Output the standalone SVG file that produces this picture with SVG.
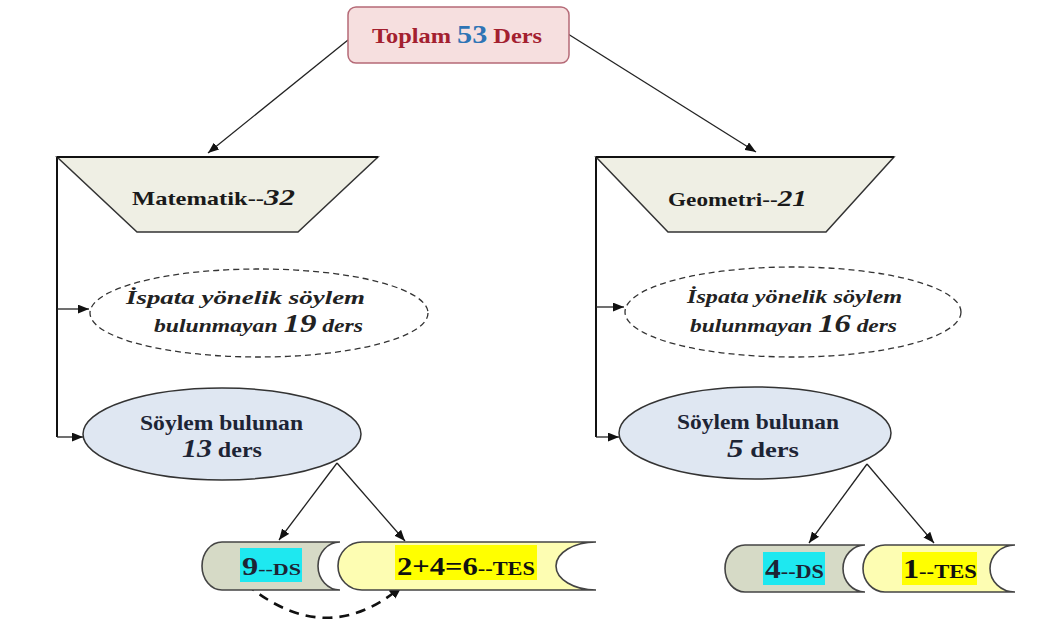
<svg xmlns="http://www.w3.org/2000/svg" width="1057" height="630" viewBox="0 0 1057 630" font-family="'Liberation Serif', 'Times New Roman', 'DejaVu Serif', serif">
  <defs>
    <marker id="arrow" viewBox="0 0 10 8" refX="10" refY="4" markerWidth="11" markerHeight="9" markerUnits="userSpaceOnUse" orient="auto">
      <path d="M0,0 L10,4 L0,8 Z" fill="#111"/>
    </marker>
    <marker id="arrowBig" viewBox="0 0 10 8" refX="9" refY="4" markerWidth="13" markerHeight="11" markerUnits="userSpaceOnUse" orient="auto">
      <path d="M0,0 L10,4 L0,8 Z" fill="#111"/>
    </marker>
  </defs>
  <style>
    text { font-family: 'Liberation Serif', 'Times New Roman', 'DejaVu Serif', serif; font-weight: 700; }
    .total { fill: #f6dfdf; stroke: #b56a77; stroke-width: 1.5; }
    .subject { fill: #efefe4; stroke: #333; stroke-width: 1.5; }
    .none { fill: #ffffff; stroke: #333; stroke-width: 1.3; stroke-dasharray: 6 4; }
    .found { fill: #dfe7f2; stroke: #333; stroke-width: 1.5; }
    .ds { fill: #d6dac6; stroke: #444; stroke-width: 1.6; }
    .tes { fill: #fdfdb2; stroke: #444; stroke-width: 1.6; }
    .link { fill: none; stroke: #222; stroke-width: 1.3; marker-end: url(#arrow); }
    .bus { fill: none; stroke: #111; stroke-width: 2; }
    .dash { fill: none; stroke: #111; stroke-width: 2.6; stroke-dasharray: 10 7; marker-end: url(#arrowBig); }
    .ital { font-style: italic; }
    .dark { fill: #1d2435; }
  </style>

  <!-- connectors -->
  <g id="connectors">
    <path class="link" d="M348,40 L208,153"/>
    <path class="link" d="M568,34 L756,152"/>
    <path class="bus" d="M57,157 V437"/>
    <path class="link" d="M57,309 H89"/>
    <path class="link" d="M57,437 H83"/>
    <path class="bus" d="M596,157 V437"/>
    <path class="link" d="M596,307 H624"/>
    <path class="link" d="M596,437 H619"/>
    <path class="link" d="M337,463 L279,540"/>
    <path class="link" d="M337,463 L405,541"/>
    <path class="link" d="M867,464 L809,543"/>
    <path class="link" d="M867,464 L934,543"/>
    <path class="dash" d="M246,584 Q326,650 401,587"/>
  </g>

  <!-- total -->
  <g id="total">
    <rect class="total" x="348" y="7" width="221" height="56" rx="8"/>
    <text x="372" y="43" font-size="21" textLength="170" lengthAdjust="spacingAndGlyphs"><tspan fill="#a3202f">Toplam </tspan><tspan fill="#2e74b5" font-size="26">53</tspan><tspan fill="#a3202f"> Ders</tspan></text>
  </g>

  <!-- mathematics branch -->
  <g id="matematik">
    <polygon class="subject" points="57,157 378,157 298,232 137,232"/>
    <line x1="57" y1="157" x2="378" y2="157" stroke="#111" stroke-width="2"/>
    <text x="132" y="205" font-size="19" fill="#1a1a1a" textLength="163" lengthAdjust="spacingAndGlyphs">Matematik--<tspan class="ital" font-size="24">32</tspan></text>
  </g>

  <g id="mat-none">
    <ellipse class="none" cx="259" cy="313" rx="169" ry="44"/>
    <text class="ital" x="126" y="304" font-size="18" fill="#222" textLength="239" lengthAdjust="spacingAndGlyphs">İspata yönelik söylem</text>
    <text class="ital" x="154" y="332" font-size="18" fill="#222" textLength="209" lengthAdjust="spacingAndGlyphs">bulunmayan <tspan font-size="25">19</tspan> ders</text>
  </g>

  <g id="mat-found">
    <ellipse class="found" cx="222" cy="434" rx="139" ry="46"/>
    <text class="dark" x="140" y="430" font-size="21" textLength="163" lengthAdjust="spacingAndGlyphs">Söylem bulunan</text>
    <text class="dark" x="182" y="457" font-size="21" textLength="80" lengthAdjust="spacingAndGlyphs"><tspan class="ital" font-size="26">13</tspan> ders</text>
  </g>

  <g id="mat-ds">
    <path class="ds" d="M222,542 H340 A22,24 0 0 0 340,590 H222 A20,24 0 0 1 222,542 Z"/>
    <rect x="240" y="548" width="62" height="34" fill="#1ee8f0"/>
    <text class="dark" x="242" y="575" font-size="17" textLength="59" lengthAdjust="spacingAndGlyphs"><tspan font-size="25">9</tspan>--DS</text>
  </g>

  <g id="mat-tes">
    <path class="tes" d="M362,542 H596 A40,24 0 0 0 596,590 H362 A24,24 0 0 1 362,542 Z"/>
    <rect x="395" y="545" width="142" height="35" fill="#ffff00"/>
    <text x="397" y="575" font-size="19" fill="#111" textLength="138" lengthAdjust="spacingAndGlyphs"><tspan font-size="26">2+4=6</tspan>--TES</text>
  </g>

  <!-- geometry branch -->
  <g id="geometri">
    <polygon class="subject" points="596,157 894,157 826,232 668,232"/>
    <line x1="596" y1="157" x2="894" y2="157" stroke="#111" stroke-width="2"/>
    <text x="668" y="206" font-size="19" fill="#1a1a1a" textLength="139" lengthAdjust="spacingAndGlyphs">Geometri--<tspan class="ital" font-size="24">21</tspan></text>
  </g>

  <g id="geo-none">
    <ellipse class="none" cx="793" cy="312" rx="168" ry="45"/>
    <text class="ital" x="687" y="303" font-size="18" fill="#222" textLength="215" lengthAdjust="spacingAndGlyphs">İspata yönelik söylem</text>
    <text class="ital" x="690" y="332" font-size="18" fill="#222" textLength="207" lengthAdjust="spacingAndGlyphs">bulunmayan <tspan font-size="25">16</tspan> ders</text>
  </g>

  <g id="geo-found">
    <ellipse class="found" cx="755" cy="433" rx="136" ry="46"/>
    <text class="dark" x="677" y="429" font-size="21" textLength="162" lengthAdjust="spacingAndGlyphs">Söylem bulunan</text>
    <text class="dark" x="727" y="457" font-size="21" textLength="72" lengthAdjust="spacingAndGlyphs"><tspan class="ital" font-size="26">5</tspan> ders</text>
  </g>

  <g id="geo-ds">
    <path class="ds" d="M745,545 H865 A22,23.5 0 0 0 865,592 H745 A20,23.5 0 0 1 745,545 Z"/>
    <rect x="763" y="552" width="62" height="33" fill="#1ee8f0"/>
    <text class="dark" x="765" y="578" font-size="19" textLength="59" lengthAdjust="spacingAndGlyphs"><tspan font-size="27">4</tspan>--DS</text>
  </g>

  <g id="geo-tes">
    <path class="tes" d="M885,545 H1015 A25,23.5 0 0 0 1015,592 H885 A22,23.5 0 0 1 885,545 Z"/>
    <rect x="902" y="552" width="75" height="33" fill="#ffff00"/>
    <text x="903" y="578" font-size="19" fill="#111" textLength="74" lengthAdjust="spacingAndGlyphs"><tspan font-size="27">1</tspan>--TES</text>
  </g>
</svg>
